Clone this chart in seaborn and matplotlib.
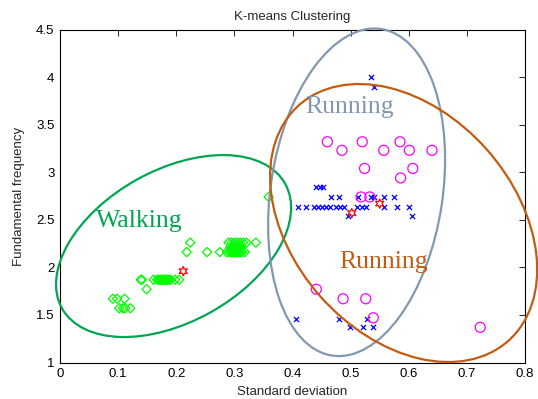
import numpy as np
import pandas as pd
import matplotlib
matplotlib.use("Agg")
import matplotlib.pyplot as plt
import seaborn as sns
from matplotlib.patches import Ellipse
from matplotlib.transforms import Affine2D, ScaledTranslation

# ---- data ----
walk_x = [0.091, 0.098, 0.111, 0.102, 0.108, 0.112, 0.121,
          0.139, 0.141, 0.149, 0.161, 0.167, 0.170, 0.172, 0.174, 0.176, 0.178, 0.180,
          0.182, 0.184, 0.186, 0.188, 0.190, 0.198, 0.205,
          0.218, 0.224, 0.253, 0.275,
          0.287, 0.291, 0.294, 0.297, 0.299, 0.301, 0.303, 0.305, 0.307, 0.310, 0.313, 0.318,
          0.293, 0.296, 0.299, 0.302, 0.305, 0.308, 0.311,
          0.290, 0.295, 0.300, 0.305, 0.310, 0.315, 0.321, 0.337, 0.359]
walk_y = [1.67, 1.67, 1.67, 1.57, 1.57, 1.57, 1.57,
          1.87, 1.87, 1.77, 1.87, 1.87, 1.87, 1.87, 1.87, 1.87, 1.87, 1.87,
          1.87, 1.87, 1.87, 1.87, 1.87, 1.87, 1.87,
          2.16, 2.26, 2.16, 2.16,
          2.16, 2.16, 2.16, 2.16, 2.16, 2.16, 2.16, 2.16, 2.16, 2.16, 2.16, 2.16,
          2.21, 2.21, 2.21, 2.21, 2.21, 2.21, 2.21,
          2.26, 2.26, 2.26, 2.26, 2.26, 2.26, 2.26, 2.26, 2.74]

run1_x = [0.441, 0.447, 0.452,
          0.466, 0.480, 0.513, 0.535, 0.540, 0.557, 0.575,
          0.410, 0.423, 0.437, 0.444, 0.451, 0.458, 0.465, 0.475, 0.482, 0.489,
          0.511, 0.519, 0.527, 0.558, 0.580, 0.601,
          0.495, 0.605,
          0.406, 0.480, 0.529,
          0.499, 0.522, 0.538,
          0.535, 0.540]
run1_y = [2.84, 2.84, 2.84,
          2.74, 2.74, 2.74, 2.74, 2.74, 2.74, 2.74,
          2.63, 2.63, 2.63, 2.63, 2.63, 2.63, 2.63, 2.63, 2.63, 2.63,
          2.63, 2.63, 2.63, 2.63, 2.63, 2.63,
          2.54, 2.54,
          1.46, 1.46, 1.46,
          1.37, 1.37, 1.37,
          4.00, 3.90]

run2_x = [0.460, 0.485, 0.520, 0.557, 0.585, 0.601, 0.640, 0.524, 0.607, 0.586,
          0.518, 0.533, 0.441, 0.487, 0.526, 0.539, 0.723]
run2_y = [3.32, 3.23, 3.32, 3.23, 3.32, 3.23, 3.23, 3.04, 3.04, 2.94,
          2.74, 2.74, 1.77, 1.67, 1.67, 1.47, 1.37]

cent_x = [0.212, 0.502, 0.550]
cent_y = [1.96, 2.57, 2.67]

x_ticks = [0, 0.1, 0.2, 0.3, 0.4, 0.5, 0.6, 0.7, 0.8]
x_tick_labels = ["0", "0.1", "0.2", "0.3", "0.4", "0.5", "0.6", "0.7", "0.8"]
y_ticks = [1, 1.5, 2, 2.5, 3, 3.5, 4, 4.5]
y_tick_labels = ["1", "1.5", "2", "2.5", "3", "3.5", "4", "4.5"]

# ellipse annotations: centre (data), semi-axes (px), angle (deg)
ell_names = ["Walking", "Running", "Running"]
ell_cx = [0.1954, 0.5103, 0.5912]
ell_cy = [2.224, 2.789, 2.466]
ell_a = [127.8, 165.1, 157.6]
ell_b = [75.9, 86.0, 111.0]
ell_ang = [29.2, 81.5, -48.4]
ell_col = ["#00A651", "#8497B0", "#C55A11"]
lab_x = [0.136, 0.4974, 0.556]
lab_y = [2.424, 3.622, 1.993]

# ---- plot ----
sns.set_theme(style="white")
plt.rcParams['font.family'] = ['Liberation Sans', 'DejaVu Sans']

fig = plt.figure(figsize=(5.38, 3.99), dpi=100)
ax = fig.add_axes([60 / 538, 36.5 / 399, 465 / 538, 333 / 399])

sns.scatterplot(x=walk_x, y=walk_y, marker='D', s=22, facecolor='none',
                edgecolor='#00FF00', linewidth=0.9, ax=ax, legend=False, zorder=3)
sns.scatterplot(x=run1_x, y=run1_y, marker='x', s=14, color='#0000FF',
                linewidth=0.9, ax=ax, legend=False, zorder=3)
sns.scatterplot(x=run2_x, y=run2_y, marker='o', s=52, facecolor='none',
                edgecolor='#FF00FF', linewidth=0.9, ax=ax, legend=False, zorder=3)
sns.scatterplot(x=cent_x, y=cent_y, marker=(6, 1, 0), s=45, facecolor='none',
                edgecolor='#FF0000', linewidth=0.9, ax=ax, legend=False, zorder=4)

ax.set_xlim(0, 0.8)
ax.set_ylim(1, 4.5)
ax.set_xticks(x_ticks)
ax.set_xticklabels(x_tick_labels)
ax.set_yticks(y_ticks)
ax.set_yticklabels(y_tick_labels)
ax.tick_params(direction='in', top=True, right=True, length=4, width=0.6,
               labelsize=9.5, pad=4, colors='black')
for sp in ax.spines.values():
    sp.set_color('black')
    sp.set_linewidth(0.8)

for cx, cy, a, b, ang, col in zip(ell_cx, ell_cy, ell_a, ell_b, ell_ang, ell_col):
    tr = Affine2D() + ScaledTranslation(cx, cy, ax.transData)
    e = Ellipse((0, 0), 2 * a, 2 * b, angle=ang, transform=tr, fill=False,
                edgecolor=col, linewidth=1.6, clip_on=False, zorder=5)
    ax.add_patch(e)

for name, lx, ly, col in zip(ell_names, lab_x, lab_y, ell_col):
    ax.text(lx, ly, name, color=col, fontsize=18.5, family=['Liberation Serif'],
            ha='center', va='baseline', zorder=6)

ax.set_title("K-means Clustering", fontsize=9.5, pad=7)
ax.set_xlabel("Standard deviation", fontsize=9.5, labelpad=4)
ax.set_ylabel("Fundamental frequency", fontsize=9.5, labelpad=8)

fig.savefig("out.png", dpi=100)
